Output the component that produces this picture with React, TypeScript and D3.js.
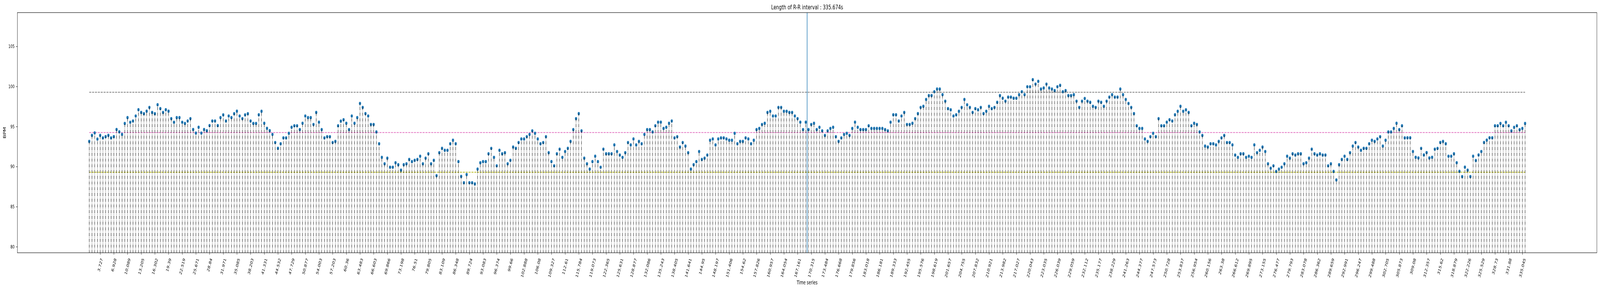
import { useEffect, useRef } from 'react';
import * as d3 from 'd3';

// heart rate per beat (beat 0 .. 525)
const bpmValues: number[] = [
  93.14, 93.89, 94.2, 93.43, 93.89, 93.58, 93.74, 93.89, 93.58, 93.74,
  94.62, 94.33, 94.02, 95.38, 96.11, 95.53, 95.69, 96.31, 97.09, 96.75,
  96.6, 96.91, 97.38, 96.75, 96.6, 97.72, 97.23, 96.75, 97.09, 96.91,
  95.98, 95.53, 96.11, 96.11, 95.53, 95.38, 95.69, 95.98, 94.62, 94.17,
  94.9, 94.17, 94.62, 94.47, 95.11, 95.69, 95.69, 95.11, 96.11, 96.45,
  95.69, 96.31, 96.11, 96.6, 96.91, 96.31, 95.98, 96.45, 96.6, 95.69,
  95.38, 95.38, 96.46, 96.9, 95.4, 94.77, 94.48, 94.01, 93.0, 92.28,
  92.85, 93.58, 93.58, 94.15, 94.9, 95.09, 95.09, 94.61, 95.4, 96.31,
  96.11, 96.11, 95.25, 96.75, 95.54, 94.61, 93.58, 93.73, 93.73, 93.0,
  93.14, 95.09, 95.67, 95.84, 95.4, 94.61, 96.31, 95.4, 96.11, 97.87,
  97.38, 96.61, 96.31, 95.25, 95.25, 94.32, 92.85, 91.15, 90.34, 91.05,
  89.92, 89.92, 90.47, 90.23, 89.55, 90.23, 90.34, 90.89, 90.62, 90.78,
  90.89, 91.29, 90.34, 91.05, 91.59, 90.34, 90.78, 88.86, 91.73, 92.28,
  92.03, 92.03, 92.85, 93.29, 92.85, 90.62, 88.77, 87.98, 89.0, 87.98,
  87.98, 87.83, 89.68, 90.47, 90.62, 90.62, 91.59, 92.27, 91.15, 90.09,
  92.03, 91.59, 91.73, 90.34, 90.78, 92.43, 92.28, 93.0, 93.44, 93.44,
  93.73, 94.01, 94.46, 94.15, 93.44, 92.85, 93.0, 93.73, 91.73, 90.62,
  90.09, 91.59, 92.17, 91.15, 91.88, 92.28, 93.14, 94.61, 95.98, 96.61,
  94.46, 91.05, 90.34, 89.68, 90.62, 91.29, 90.62, 89.92, 92.17, 91.59,
  91.59, 91.59, 92.7, 91.88, 91.44, 91.15, 91.73, 93.0, 92.7, 93.44,
  92.7, 93.14, 92.85, 94.01, 94.61, 94.61, 94.32, 95.09, 95.54, 95.54,
  94.76, 94.9, 95.4, 95.69, 93.58, 93.73, 92.43, 93.0, 92.56, 91.73,
  89.68, 90.23, 90.62, 91.88, 90.89, 91.05, 91.44, 93.29, 93.44, 92.7,
  93.44, 93.58, 93.58, 93.44, 93.29, 93.29, 94.15, 92.85, 93.14, 93.14,
  93.58, 93.44, 92.85, 93.29, 94.61, 94.76, 95.25, 95.4, 96.75, 96.9,
  96.31, 96.31, 97.38, 97.38, 96.9, 96.9, 96.75, 96.75, 96.31, 95.98,
  95.54, 94.61, 95.54, 94.61, 95.25, 95.4, 94.61, 94.9, 94.46, 93.88,
  94.46, 94.76, 94.9, 93.73, 93.14, 93.58, 94.01, 94.15, 93.88, 94.76,
  95.54, 94.9, 94.61, 94.61, 94.61, 95.09, 94.76, 94.76, 94.76, 94.76,
  94.76, 94.61, 94.46, 95.54, 96.46, 96.46, 95.69, 96.31, 96.75, 95.25,
  95.25, 95.4, 95.98, 96.61, 97.38, 97.52, 98.37, 98.86, 98.86, 99.34,
  99.67, 99.67, 98.97, 98.16, 97.23, 97.08, 96.31, 96.46, 96.9, 97.38,
  98.37, 97.71, 97.38, 96.75, 97.23, 97.08, 97.38, 96.61, 96.9, 97.52,
  97.23, 97.38, 98.02, 98.86, 98.53, 98.16, 98.66, 98.66, 98.53, 98.53,
  98.97, 99.34, 98.97, 99.96, 99.96, 100.84, 100.29, 100.64, 99.67, 99.81,
  100.29, 99.81, 99.67, 99.48, 99.96, 100.14, 99.34, 99.48, 98.86, 98.86,
  98.97, 98.16, 97.38, 98.16, 98.49, 98.16, 98.02, 97.52, 97.38, 98.16,
  98.02, 97.52, 98.16, 98.66, 98.97, 98.66, 98.66, 99.67, 98.97, 98.37,
  97.87, 97.38, 96.61, 95.09, 94.76, 94.76, 93.44, 93.14, 93.73, 94.15,
  93.73, 95.98, 95.09, 95.09, 95.54, 95.84, 95.69, 96.46, 96.9, 97.52,
  96.9, 97.08, 96.75, 95.09, 95.4, 95.25, 94.32, 93.88, 92.56, 92.43,
  92.85, 92.85, 92.7, 93.14, 93.58, 93.88, 93.0, 93.0, 92.7, 91.44,
  91.15, 91.59, 91.59, 91.15, 91.29, 91.15, 92.7, 91.73, 92.03, 92.43,
  91.88, 90.34, 89.79, 90.09, 89.39, 89.68, 89.92, 90.34, 91.29, 91.05,
  91.59, 91.44, 91.59, 91.59, 90.34, 90.47, 91.05, 92.17, 91.59, 91.44,
  91.59, 91.44, 91.44, 90.09, 90.34, 89.39, 88.33, 90.23, 90.89, 91.29,
  90.89, 91.73, 92.56, 93.0, 92.43, 92.03, 92.28, 92.28, 92.85, 93.29,
  93.14, 93.44, 93.73, 92.56, 93.29, 94.32, 94.32, 94.76, 95.4, 94.61,
  95.09, 93.58, 93.59, 93.59, 91.88, 91.16, 91.07, 92.27, 91.45, 91.74,
  91.07, 91.16, 92.17, 92.27, 93.01, 93.14, 92.85, 91.29, 91.29, 91.59,
  90.48, 89.41, 88.75, 89.93, 89.55, 88.75, 91.29, 90.75, 91.45, 91.88,
  93.01, 93.3, 93.59, 93.59, 95.09, 95.09, 95.38, 95.09, 95.52, 95.09,
  94.45, 94.89, 95.09, 94.6, 94.76, 95.38,
];

// time (s) of every 5th beat, starting at beat 4
const timeTickLabels: string[] = [
  '3.727', '6.928', '10.089', '13.205', '16.302', '19.39', '22.519', '25.671', '28.84', '31.971',
  '35.085', '38.203', '41.331', '44.532', '47.729', '50.877', '54.003', '57.203', '60.36', '63.483',
  '66.603', '69.866', '73.198', '76.51', '79.805', '83.109', '86.348', '89.724', '93.083', '96.374',
  '99.66', '102.888', '106.08', '109.327', '112.61', '115.784', '119.073', '122.365', '125.631', '128.877',
  '132.086', '135.243', '138.405', '141.641', '144.95', '148.197', '151.406', '154.62', '157.826', '160.957',
  '164.054', '167.161', '170.315', '173.484', '176.668', '179.856', '183.018', '186.181', '189.333', '192.455',
  '195.576', '198.619', '201.657', '204.755', '207.832', '210.921', '213.982', '217.027', '220.043', '223.035',
  '226.039', '229.059', '232.112', '235.177', '238.229', '241.263', '244.377', '247.573', '250.728', '253.837',
  '256.954', '260.156', '263.38', '266.612', '269.895', '273.155', '276.477', '279.793', '283.078', '286.362',
  '289.659', '292.991', '296.247', '299.488', '302.705', '305.873', '309.08', '312.357', '315.62', '318.879',
  '322.226', '325.529', '328.73', '331.88', '335.045',
];
const firstTickBeat = 4;
const tickEvery = 5;

const yTicks: number[] = [80, 85, 90, 95, 100, 105];

// reference levels
const upperBpm = 99.27;
const meanBpm = 94.25;
const lowerBpm = 89.29;
const recordLength = '335.674';

const WIDTH = 6124;
const HEIGHT = 746;
const FONT = '"DejaVu Sans", sans-serif';

export default function App() {
  const svgRef = useRef<SVGSVGElement>(null);

  useEffect(() => {
    const svg = d3.select(svgRef.current);
    svg.selectAll('*').remove();

    const left = 66.7, right = 6112, top = 32.35, bottom = 648;
    const last = bpmValues.length - 1;

    const x = d3.scaleLinear()
      .domain([-0.05 * last, 1.05 * last])
      .range([left, right]);
    const y = d3.scaleLinear()
      .domain([79.24, 109.21])
      .range([bottom, top]);

    svg.append('rect')
      .attr('width', WIDTH).attr('height', HEIGHT).attr('fill', 'white');

    svg.append('clipPath').attr('id', 'plot-clip')
      .append('rect')
      .attr('x', left).attr('y', top)
      .attr('width', right - left).attr('height', bottom - top);

    const plot = svg.append('g').attr('clip-path', 'url(#plot-clip)');

    // reference lines
    const refs = [
      { v: upperBpm, c: '#7f7f7f' },
      { v: meanBpm, c: '#e377c2' },
      { v: lowerBpm, c: '#bcbd22' },
    ];
    plot.selectAll('.ref')
      .data(refs)
      .enter().append('line')
      .attr('x1', x(0)).attr('x2', x(last))
      .attr('y1', d => y(d.v)).attr('y2', d => y(d.v))
      .attr('stroke', d => d.c)
      .attr('stroke-width', 2)
      .attr('stroke-dasharray', '7.7,3.3');

    // markers
    plot.selectAll('.dot')
      .data(bpmValues)
      .enter().append('circle')
      .attr('cx', (_, i) => x(i))
      .attr('cy', d => y(d))
      .attr('r', 4.2)
      .attr('fill', '#1f77b4');

    // stems (dash-dot), drawn from the axis bottom up to the value
    plot.selectAll('.stem')
      .data(bpmValues)
      .enter().append('line')
      .attr('x1', (_, i) => x(i)).attr('x2', (_, i) => x(i))
      .attr('y1', bottom + 2).attr('y2', d => y(d))
      .attr('stroke', 'black')
      .attr('stroke-width', 1.3)
      .attr('stroke-dasharray', '8.9,2.2,1.4,2.2');

    // half-way marker
    plot.append('line')
      .attr('x1', x(last / 2)).attr('x2', x(last / 2))
      .attr('y1', top).attr('y2', bottom)
      .attr('stroke', '#1f77b4')
      .attr('stroke-width', 2);

    // y axis
    const yAxis = svg.append('g')
      .attr('transform', `translate(${left},0)`)
      .call(d3.axisLeft(y).tickValues(yTicks).tickSize(4.9).tickPadding(6).tickFormat(d3.format('d')));
    yAxis.select('.domain').remove();
    yAxis.selectAll('line').attr('stroke', 'black').attr('stroke-width', 1.1);
    yAxis.selectAll('text')
      .attr('font-family', FONT).attr('font-size', 12.5).attr('fill', 'black');

    // x axis
    const tickBeats = timeTickLabels.map((_, i) => firstTickBeat + i * tickEvery);
    const xAxis = svg.append('g')
      .attr('transform', `translate(0,${bottom})`)
      .call(d3.axisBottom(x).tickValues(tickBeats).tickSize(4.9)
        .tickFormat((_, i) => timeTickLabels[i]));
    xAxis.select('.domain').remove();
    xAxis.selectAll('line').attr('stroke', 'black').attr('stroke-width', 1.1);
    xAxis.selectAll<SVGTextElement, number>('text')
      .attr('font-family', FONT).attr('font-size', 12.5).attr('fill', 'black')
      .attr('y', null).attr('dy', null)
      .attr('text-anchor', 'middle')
      .attr('dominant-baseline', 'central')
      .attr('transform', function () {
        const len = this.getComputedTextLength();
        const cy = 12 + 0.47 * len + 2.5;
        return `translate(0,${cy}) rotate(-70)`;
      });

    // frame
    svg.append('rect')
      .attr('x', left).attr('y', top)
      .attr('width', right - left).attr('height', bottom - top)
      .attr('fill', 'none').attr('stroke', 'black').attr('stroke-width', 1.1);

    // labels
    svg.append('text')
      .attr('x', (left + right) / 2).attr('y', 24)
      .attr('text-anchor', 'middle')
      .attr('font-family', FONT).attr('font-size', 16.7)
      .text(`Length of R-R interval : ${recordLength}s`);

    svg.append('text')
      .attr('x', (left + right) / 2).attr('y', 729)
      .attr('text-anchor', 'middle')
      .attr('font-family', FONT).attr('font-size', 13.9)
      .text('Time series');

    svg.append('text')
      .attr('transform', `translate(21.7,${(top + bottom) / 2}) rotate(-90)`)
      .attr('text-anchor', 'middle')
      .attr('font-family', FONT).attr('font-size', 13.9)
      .text('BPM');
  }, []);

  // the svg keeps the 6124x746 drawing and fills whatever viewport the page gets
  return (
    <div style={{ position: 'fixed', left: 0, top: 0, width: '100vw', height: '100vh' }}>
      <svg
        ref={svgRef}
        viewBox={`0 0 ${WIDTH} ${HEIGHT}`}
        preserveAspectRatio="none"
        style={{ display: 'block', width: '100%', height: '100%' }}
      />
    </div>
  );
}
